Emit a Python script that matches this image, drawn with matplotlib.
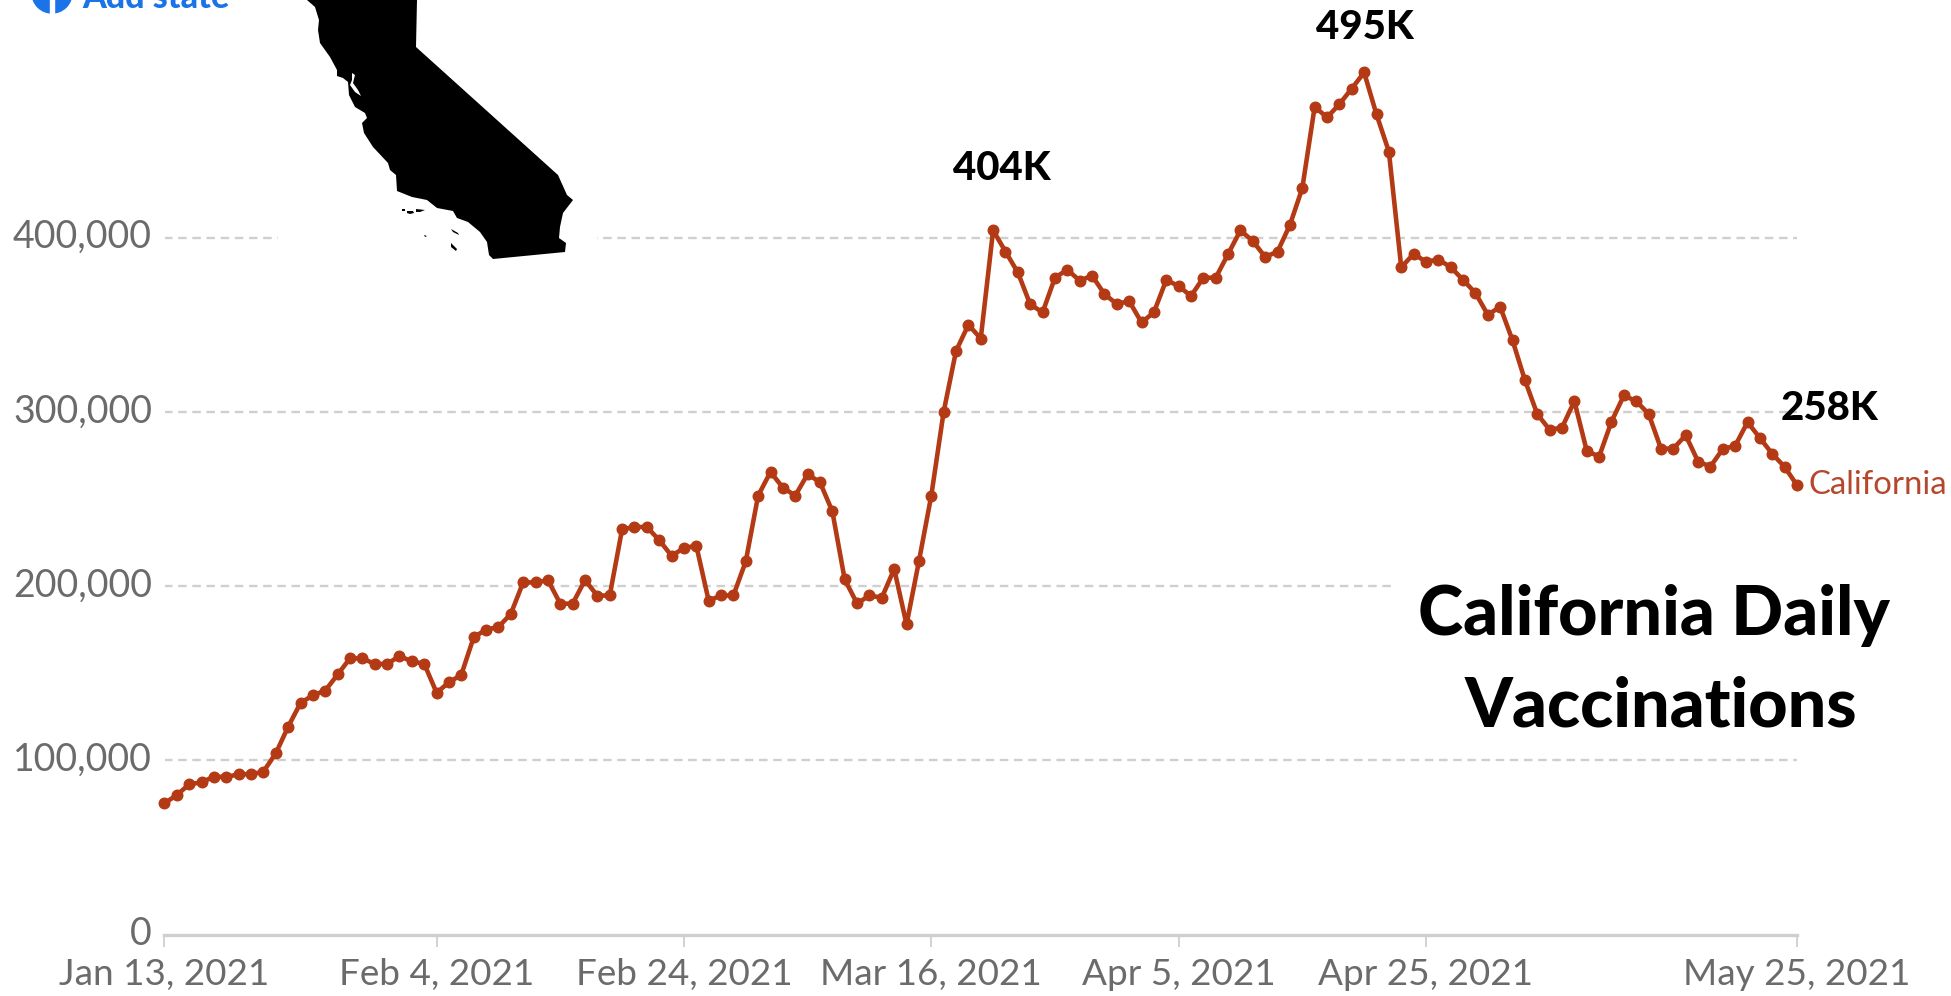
import matplotlib
matplotlib.use("Agg")
import matplotlib.pyplot as plt
import matplotlib.ticker as ticker
import matplotlib.transforms as transforms
import pandas as pd
from matplotlib.patches import Circle, Polygon, Rectangle

plt.rcParams['font.family'] = ['Lato', 'DejaVu Sans']

dates = pd.date_range('2021-01-13', '2021-05-25')
# daily doses (thousands)
daily = [
    75.3, 80.1, 86.2, 87.4, 90.6, 90.4, 92, 92, 93.5, 104,
    119.3, 132.9, 137.3, 140, 149.3, 158.5, 158.5, 155.3, 155.3, 159.8,
    156.8, 155.4, 138.8, 144.7, 149.1, 170.6, 175, 176.5, 184, 202.1,
    202.1, 203.4, 189.9, 189.9, 203.4, 194.5, 194.6, 232.6, 233.9, 233.9,
    226.4, 217.4, 221.8, 223.2, 191.6, 194.6, 194.6, 214.2, 251.9, 265.5,
    256.5, 251.9, 264.2, 259.6, 242.9, 203.8, 190, 194.6, 193.3, 209.8,
    178, 214.2, 251.9, 300, 334.9, 350, 342.1, 404.2, 392, 380,
    361.7, 357.1, 377, 381.6, 375.3, 378.2, 367.6, 361.9, 363.6, 351.3,
    357.1, 375.7, 372.2, 366.5, 377, 377, 390.6, 404.2, 398, 388.9,
    392, 407.3, 428.4, 475.1, 469, 476.6, 485.6, 494.8, 470.7, 449.4,
    383, 390.6, 386.2, 387.4, 383.1, 375.7, 368.2, 355.7, 360.3, 341,
    318.2, 298.7, 289.7, 291, 306.1, 277.6, 274.3, 294.4, 309.4, 306.1,
    298.9, 278.9, 278.9, 286.6, 271.5, 268.6, 278.7, 280.5, 294.1, 285,
    275.9, 268.4, 257.9,
]
tick_dates = ['2021-01-13', '2021-02-04', '2021-02-24', '2021-03-16',
              '2021-04-05', '2021-04-25', '2021-05-25']
tick_labels = ['Jan 13, 2021', 'Feb 4, 2021', 'Feb 24, 2021', 'Mar 16, 2021',
               'Apr 5, 2021', 'Apr 25, 2021', 'May 25, 2021']
y_ticks = [0, 100000, 200000, 300000, 400000]

# state outline, in picture pixels
state_outline = [
    (307, 0), (315, 7), (319, 20), (318, 30), (320, 43), (330, 57), (337, 70),
    (337, 76), (343, 78), (348, 82), (349, 95), (355, 107), (365, 113),
    (367, 118), (362, 123), (364, 133), (373, 147), (388, 163), (390, 170),
    (396, 175), (397, 191), (412, 197), (427, 200), (437, 208), (453, 211),
    (457, 218), (468, 222), (480, 232), (487, 242), (489, 255), (493, 259),
    (565, 252), (566, 243), (559, 238), (560, 227), (563, 213), (573, 200),
    (567, 195), (558, 175), (416, 47), (417, 0),
]
bay = [(352, 73), (355, 75), (353, 83), (358, 90), (361, 96), (355, 92),
       (350, 85), (352, 80)]
islands = [
    [(402, 209), (405, 209), (405, 211), (402, 211)],
    [(407, 211), (413, 211), (414, 213), (410, 214), (407, 213)],
    [(416, 209), (425, 210), (420, 212), (416, 212)],
    [(451, 229), (458, 233), (459, 235), (453, 232)],
    [(424, 235), (427, 236), (425, 237)],
    [(451, 243), (457, 249), (456, 251), (451, 247)],
]

line_color = '#b33a14'
label_color = '#b4472c'
grid_color = '#cfcfcf'
text_gray = '#6b6b6b'

fig = plt.figure(figsize=(19.51, 9.96), dpi=100)
ax = fig.add_axes((164.5 / 1951, (996 - 934.5) / 996, (1797 - 164.5) / 1951, 934.5 / 996))
ax.set_xlim(dates[0], dates[-1])
ax.set_ylim(0, 536400)

ax.hlines(y_ticks[1:], dates[0], dates[-1], colors=grid_color, linewidth=1.7,
          linestyles=(0, (3.6, 2.4)), zorder=1)
ax.plot(dates, [v * 1000 for v in daily], color=line_color, linewidth=3.3,
        marker='o', markersize=7.6, clip_on=False, zorder=3)

for side in ['top', 'right', 'left']:
    ax.spines[side].set_visible(False)
ax.spines['bottom'].set_color(grid_color)
ax.spines['bottom'].set_linewidth(2.4)

ax.set_xticks(pd.to_datetime(tick_dates))
ax.set_xticklabels(tick_labels)
ax.tick_params(axis='x', length=8.5, width=1.3, color=grid_color,
               labelcolor=text_gray, labelsize=26.6, pad=8.5)
ax.set_yticks(y_ticks)
ax.yaxis.set_major_formatter(ticker.StrMethodFormatter('{x:,.0f}'))
ax.tick_params(axis='y', length=0, labelcolor=text_gray, labelsize=27, pad=9)
for lab in ax.get_yticklabels():
    lab.set_transform(lab.get_transform() + transforms.ScaledTranslation(0, 4 / 100, fig.dpi_scale_trans))

# overlay in picture pixels for the pasted-on pieces
over = fig.add_axes((0, 0, 1, 1))
over.set_xlim(0, 1951)
over.set_ylim(996, 0)
over.axis('off')

# white boxes of the pasted pieces hide the grid
over.add_patch(Rectangle((278, 228), 318, 18, color='white', zorder=1))
over.add_patch(Rectangle((1394, 578), 420, 16, color='white', zorder=1))

over.add_patch(Polygon(state_outline, closed=True, color='black', linewidth=0, zorder=2))
over.add_patch(Polygon(bay, closed=True, color='white', linewidth=0, zorder=3))
for isl in islands:
    over.add_patch(Polygon(isl, closed=True, color='black', linewidth=0, zorder=2))

over.add_patch(Circle((52, -7), 20, color='#1a73e8', clip_on=True, zorder=2))
over.add_patch(Rectangle((50, -10), 4, 30, color='white', zorder=3))
over.text(82, 8, 'Add state', color='#1a73e8', fontsize=24.5, fontweight='black',
          ha='left', va='baseline', zorder=3)

over.text(1001.5, 168, '404K', color='black', fontsize=29, fontweight='black',
          ha='center', va='center')
over.text(1365, 27.5, '495K', color='black', fontsize=29, fontweight='black',
          ha='center', va='center')
over.text(1829, 408, '258K', color='black', fontsize=29, fontweight='black',
          ha='center', va='center')
over.text(1809, 485, 'California', color=label_color, fontsize=23.7,
          ha='left', va='center')
over.text(1654, 615.5, 'California Daily', color='black', fontsize=49.2, fontweight='black',
          ha='center', va='center')
over.text(1661, 706.5, 'Vaccinations', color='black', fontsize=49.2, fontweight='black',
          ha='center', va='center')

fig.savefig('out.png', dpi=100)
